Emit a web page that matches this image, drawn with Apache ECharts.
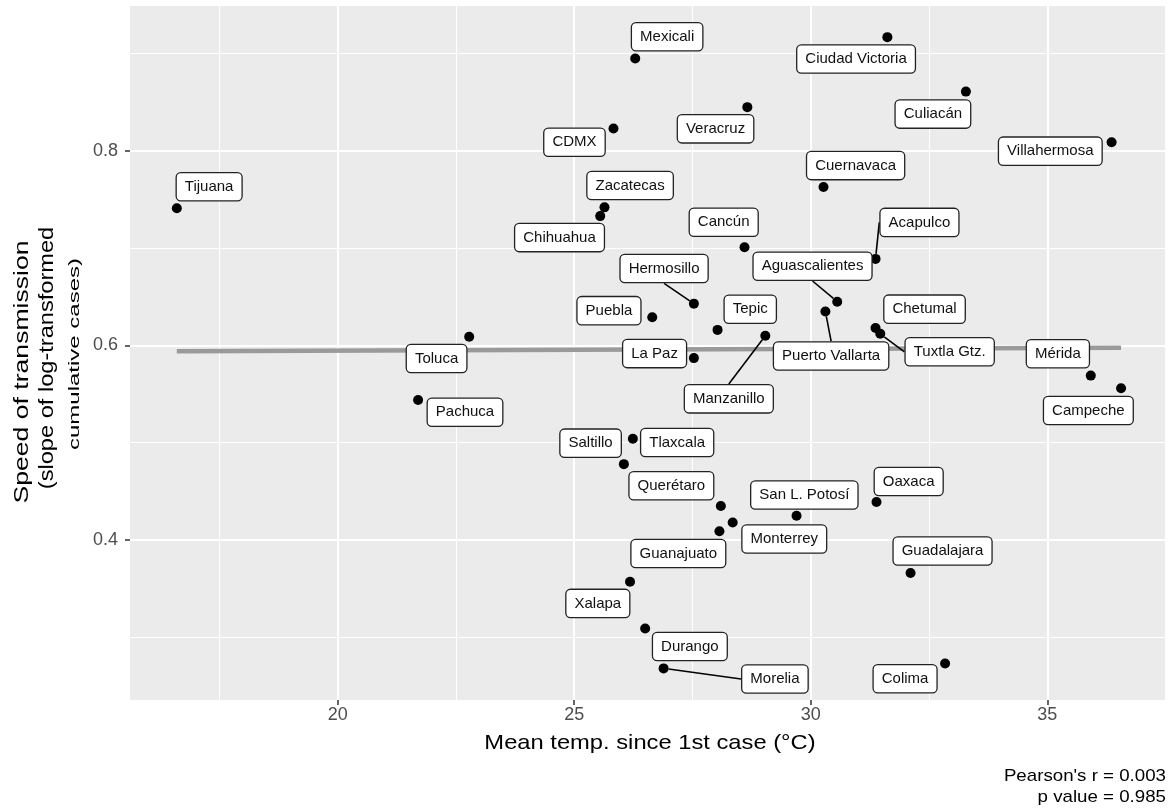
<!DOCTYPE html>
<html>
<head>
<meta charset="utf-8">
<script src="https://cdn.jsdelivr.net/npm/echarts@6/dist/echarts.min.js"></script>
<style>
html,body{margin:0;padding:0;background:#fff;}
#chart{width:1176px;height:812px;}
</style>
</head>
<body>
<div id="chart"></div>
<script>
// ---- data ----
const cities = ['Tijuana','Mexicali','CDMX','Veracruz','Zacatecas','Chihuahua','Cancún','Ciudad Victoria','Culiacán','Villahermosa','Cuernavaca','Acapulco','Aguascalientes','Puerto Vallarta','Chetumal','Tuxtla Gtz.','Mérida','Campeche','Hermosillo','Puebla','Tepic','Manzanillo','Toluca','La Paz','Pachuca','Tlaxcala','Saltillo','Querétaro','Monterrey','Guanajuato','San L. Potosí','Oaxaca','Guadalajara','Colima','Xalapa','Durango','Morelia'];
const meanTemp = [16.60,26.29,25.83,28.66,25.64,25.55,28.60,31.62,33.28,36.36,30.27,31.37,30.56,30.31,31.37,31.47,35.92,36.56,27.53,26.65,28.03,29.04,22.78,27.53,21.70,26.24,26.05,28.10,28.35,28.07,29.70,31.39,32.11,32.84,26.18,26.50,26.89];
const speed = [0.741,0.895,0.823,0.845,0.742,0.733,0.701,0.917,0.861,0.809,0.763,0.689,0.645,0.635,0.618,0.612,0.569,0.556,0.643,0.629,0.616,0.610,0.609,0.587,0.544,0.504,0.478,0.435,0.418,0.409,0.425,0.439,0.366,0.273,0.357,0.309,0.268];
const fitX = [16.6, 36.56];
const fitY = [0.5941, 0.5976];
const xTicks = [20, 25, 30, 35];
const xMinor = [17.5, 22.5, 27.5, 32.5, 37.5];
const yTicks = [0.4, 0.6, 0.8];
const yMinor = [0.3, 0.5, 0.7, 0.9];
const xTitle = 'Mean temp. since 1st case (°C)';
const yTitle = ['Speed of transmission', '(slope of log-transformed', 'cumulative cases)'];
const caption = ["Pearson's r = 0.003", 'p value = 0.985'];

// ---- label placement (pixel nudges, repel-style) ----
const labelNudge = {
  'Tijuana':[32.3,-21.5],'Mexicali':[31.9,-21.8],'CDMX':[-39,13.7],'Veracruz':[-31.8,21.7],
  'Zacatecas':[25.6,-21.8],'Chihuahua':[-40.7,21.5],'Cancún':[-20.8,-25],'Ciudad Victoria':[-31.3,21.8],
  'Culiacán':[-33,22.5],'Villahermosa':[-61.3,9],'Cuernavaca':[32.1,-21.3],'Acapulco':[43.9,-36.5],
  'Aguascalientes':[-24.7,-35.5],'Puerto Vallarta':[5.7,44.6],'Chetumal':[49,-18.8],'Tuxtla Gtz.':[69.4,18],
  'Mérida':[-32.9,-21.9],'Campeche':[-32.7,22.2],'Hermosillo':[-29.8,-35.1],'Puebla':[-43.3,-6.6],
  'Tepic':[32.7,-20.6],'Manzanillo':[-36.5,63.1],'Toluca':[-32.6,21.8],'La Paz':[-39.3,-4.5],
  'Pachuca':[46.9,12.3],'Tlaxcala':[44.3,3.7],'Saltillo':[-33.3,-21],'Querétaro':[-49.5,-20.2],
  'Monterrey':[51.6,16.5],'Guanajuato':[-41.1,22.3],'San L. Potosí':[7.8,-20.7],'Oaxaca':[32.2,-20.6],
  'Guadalajara':[32,-22],'Colima':[-40,15.2],'Xalapa':[-32.2,21.6],'Durango':[44.7,18],'Morelia':[111.3,10.6]
};
const withSegment = ['Acapulco','Aguascalientes','Puerto Vallarta','Tuxtla Gtz.','Hermosillo','Manzanillo','Morelia'];

const FONT = 'Liberation Sans, Arial, Helvetica, sans-serif';
const chart = echarts.init(document.getElementById('chart'), null, {renderer:'canvas'});

const pts = cities.map((c, i) => {
  const item = { name: c, value: [meanTemp[i], speed[i]] };
  if (withSegment.indexOf(c) >= 0) item.labelLine = { show: true };
  return item;
});

const gridLines = [];
xMinor.forEach(v => gridLines.push({ xAxis: v, lineStyle: { color: '#fff', width: 1, type: 'solid' } }));
yMinor.forEach(v => gridLines.push({ yAxis: v, lineStyle: { color: '#fff', width: 1, type: 'solid' } }));
xTicks.forEach(v => gridLines.push({ xAxis: v, lineStyle: { color: '#fff', width: 2, type: 'solid' } }));
yTicks.forEach(v => gridLines.push({ yAxis: v, lineStyle: { color: '#fff', width: 2, type: 'solid' } }));

const option = {
  animation: false,
  backgroundColor: '#fff',
  grid: { left: 130, right: 10, top: 6, bottom: 112, show: true, backgroundColor: '#EBEBEB', borderWidth: 0 },
  xAxis: {
    type: 'value', min: 15.61, max: 37.51,
    axisLine: { show: false },
    splitLine: { show: false },
    axisTick: { show: true, customValues: xTicks, length: 5, lineStyle: { color: '#333', width: 1.5 } },
    axisLabel: { customValues: xTicks, fontFamily: FONT, fontSize: 18, color: '#4D4D4D', margin: 6 }
  },
  yAxis: {
    type: 'value', min: 0.2355, max: 0.949,
    axisLine: { show: false },
    splitLine: { show: false },
    axisTick: { show: true, customValues: yTicks, length: 5, lineStyle: { color: '#333', width: 1.5 } },
    axisLabel: { customValues: yTicks, fontFamily: FONT, fontSize: 18, color: '#4D4D4D', margin: 12,
      formatter: v => v.toFixed(1) }
  },
  series: [
    {
      type: 'line', data: [], z: 1, silent: true,
      markLine: { z: 1, silent: true, symbol: ['none','none'], label: { show: false }, animation: false, data: gridLines }
    },
    {
      type: 'line', z: 2, silent: true, symbol: 'none',
      data: fitX.map((x, i) => [x, fitY[i]]),
      lineStyle: { color: '#9a9a9a', width: 4.5 }
    },
    {
      type: 'scatter', z: 3, silent: true,
      symbol: 'circle', symbolSize: 10,
      itemStyle: { color: '#000', opacity: 1 },
      data: pts,
      label: {
        show: true, position: 'inside', formatter: p => p.name,
        fontFamily: FONT, fontSize: 15, color: '#111',
        backgroundColor: '#fff', borderColor: '#222', borderWidth: 1.3, borderRadius: 4,
        padding: [6, 8, 5, 8], lineHeight: 16
      },
      labelLine: { show: false, length2: 0, smooth: false, lineStyle: { color: '#000', width: 1.6 } },
      labelLayout: function (params) {
        const o = labelNudge[cities[params.dataIndex]] || [0, 0];
        return { dx: o[0], dy: o[1], hideOverlap: false };
      }
    }
  ],
  graphic: [
    { type: 'text', x: 650, y: 743, scaleX: 1.13,
      style: { text: xTitle, font: '21px ' + FONT, fill: '#000', textAlign: 'center', textVerticalAlign: 'middle' } },
    { type: 'text', x: 22, y: 372, rotation: Math.PI / 2, scaleX: 1.33,
      style: { text: yTitle[0], font: '20px ' + FONT, fill: '#000', textAlign: 'center', textVerticalAlign: 'middle' } },
    { type: 'text', x: 47, y: 358, rotation: Math.PI / 2, scaleX: 1.18,
      style: { text: yTitle[1], font: '20px ' + FONT, fill: '#000', textAlign: 'center', textVerticalAlign: 'middle' } },
    { type: 'text', x: 75, y: 354, rotation: Math.PI / 2, scaleX: 1.6,
      style: { text: yTitle[2], font: '15px ' + FONT, fill: '#000', textAlign: 'center', textVerticalAlign: 'middle' } },
    { type: 'text', x: 1166, y: 776, scaleX: 1.1,
      style: { text: caption[0], font: '17px ' + FONT, fill: '#000', textAlign: 'right', textVerticalAlign: 'middle' } },
    { type: 'text', x: 1166, y: 797, scaleX: 1.1,
      style: { text: caption[1], font: '17px ' + FONT, fill: '#000', textAlign: 'right', textVerticalAlign: 'middle' } }
  ]
};
chart.setOption(option);
</script>
</body>
</html>
